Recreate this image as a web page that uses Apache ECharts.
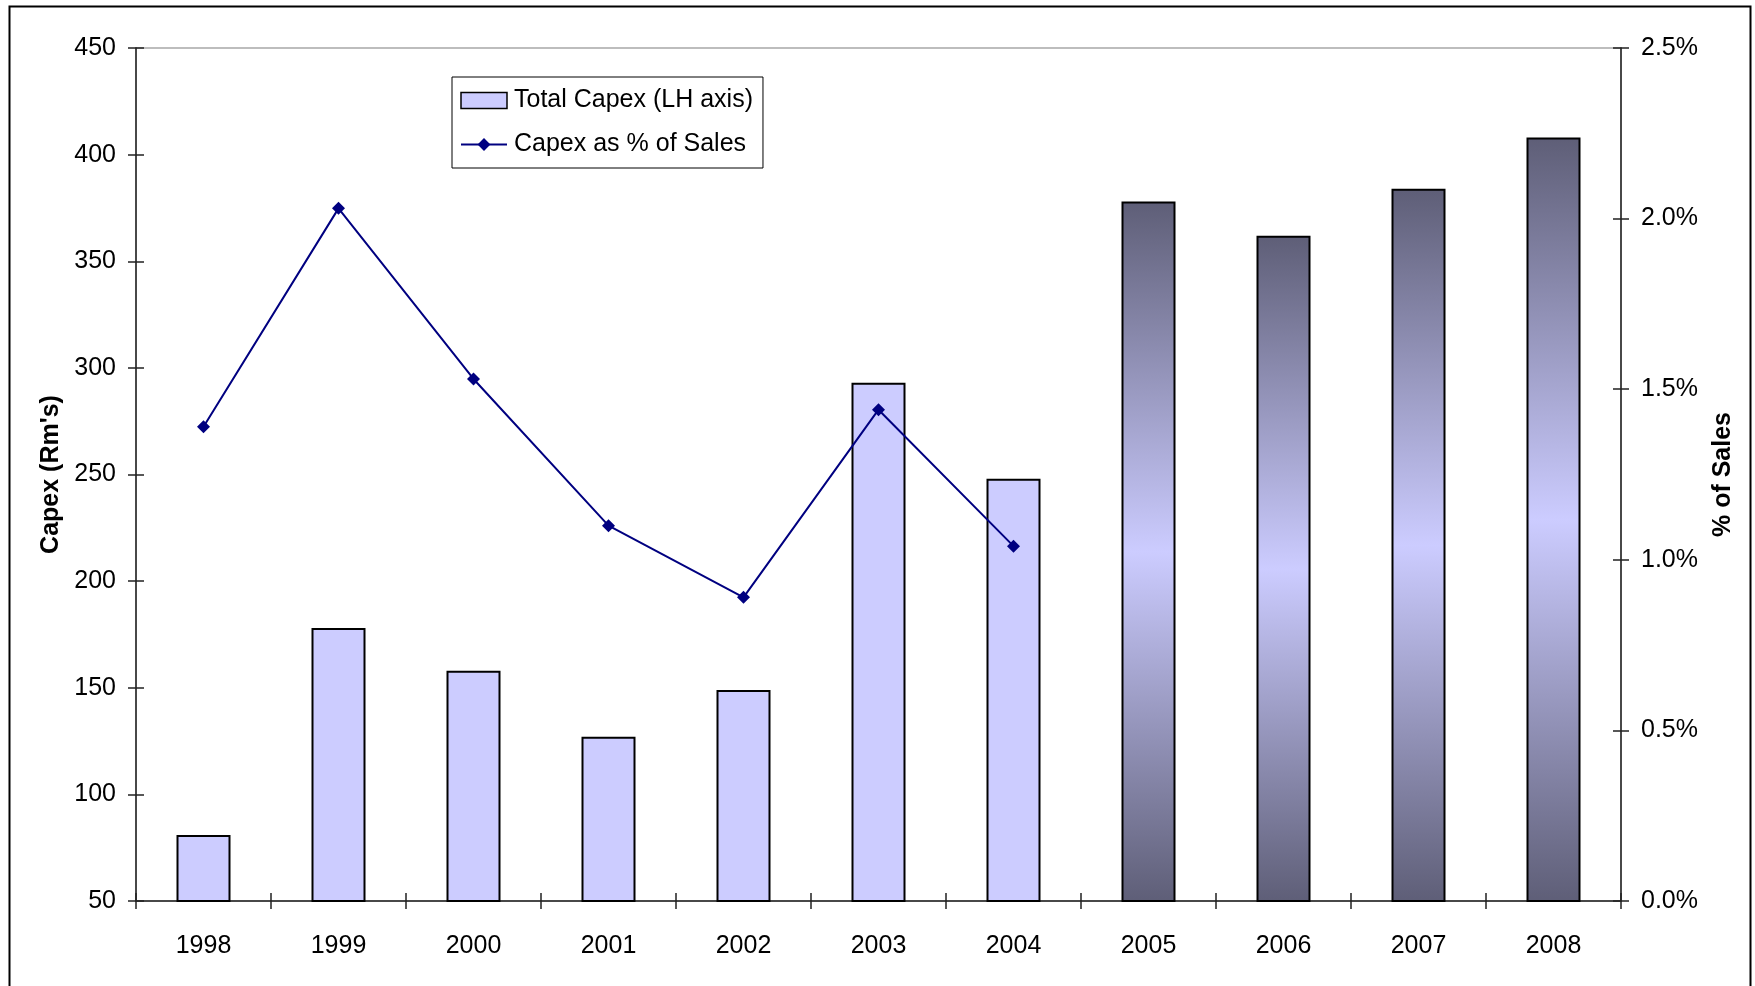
<!DOCTYPE html>
<html>
<head>
<meta charset="utf-8">
<script src="https://cdn.jsdelivr.net/npm/echarts@6/dist/echarts.min.js"></script>
<style>
html,body{margin:0;padding:0;background:#fff;}
#chart{width:1755px;height:986px;}
</style>
</head>
<body>
<div id="chart"></div>
<script>
const categories = ['1998','1999','2000','2001','2002','2003','2004','2005','2006','2007','2008'];
const capexValues = [81, 178, 158, 127, 149, 293, 248, 378, 362, 384, 408];
const capexPctSales = [1.39, 2.03, 1.53, 1.10, 0.89, 1.44, 1.04, null, null, null, null];
const forecastFrom = '2005';
const leftTicks = {min: 50, max: 450, interval: 50};
const rightTicks = {min: 0, max: 2.5, interval: 0.5};

const chart = echarts.init(document.getElementById('chart'));
const FONT = '"Liberation Sans", Arial, sans-serif';
const lightFill = '#CCCCFF';
const darkFill = '#5E5E77';
const fIdx = categories.indexOf(forecastFrom);

const barData = capexValues.map((v, i) => {
  if (i < fIdx) return v;
  return {
    value: v,
    itemStyle: {
      color: new echarts.graphic.LinearGradient(0, 0, 0, 1, [
        {offset: 0, color: darkFill},
        {offset: 0.5, color: lightFill},
        {offset: 1, color: darkFill}
      ])
    }
  };
});

const axisCol = '#222';
chart.setOption({
  backgroundColor: '#fff',
  animation: false,
  textStyle: {fontFamily: FONT},
  graphic: [{
    type: 'rect', left: 7, top: 4, silent: true,
    shape: {width: 1741, height: 1000},
    style: {fill: 'none', stroke: '#000', lineWidth: 2}
  }],
  legend: {
    left: 452, top: 77, orient: 'vertical',
    backgroundColor: '#fff',
    borderColor: '#000', borderWidth: 1,
    padding: [11, 10, 11, 8],
    itemWidth: 46, itemHeight: 16, itemGap: 19,
    textStyle: {fontSize: 25, color: '#000', fontFamily: FONT, padding: [0, 0, 0, 2]},
    data: [
      {name: 'Total Capex (LH axis)', icon: 'rect', itemStyle: {color: lightFill, borderColor: '#000', borderWidth: 1.5}},
      {name: 'Capex as % of Sales'}
    ]
  },
  grid: {left: 136, right: 134, top: 48, bottom: 85, show: true, borderColor: '#a8a8a8', borderWidth: 1.5, containLabel: false},
  xAxis: [{
    type: 'category', data: categories,
    axisLine: {lineStyle: {color: axisCol, width: 1.5}},
    axisTick: {show: true, length: 8, lineStyle: {color: axisCol, width: 1.5}},
    axisLabel: {fontSize: 25, color: '#000', margin: 33, fontFamily: FONT},
    splitLine: {show: false}
  }, {
    type: 'category', data: categories, position: 'bottom',
    axisLine: {show: false},
    axisTick: {show: true, inside: true, length: 8, lineStyle: {color: axisCol, width: 1.5}},
    axisLabel: {show: false}
  }],
  yAxis: [{
    type: 'value', min: leftTicks.min, max: leftTicks.max, interval: leftTicks.interval,
    position: 'left',
    name: "Capex (Rm's)", nameLocation: 'middle', nameGap: 71, nameRotate: 90,
    nameTextStyle: {fontSize: 25, fontWeight: 'bold', color: '#000', fontFamily: FONT},
    axisLine: {show: true, lineStyle: {color: axisCol, width: 1.5}},
    axisTick: {show: true, length: 8, lineStyle: {color: axisCol, width: 1.5}},
    axisLabel: {fontSize: 25, color: '#000', margin: 20, fontFamily: FONT},
    splitLine: {show: false}
  }, {
    type: 'value', min: rightTicks.min, max: rightTicks.max, interval: rightTicks.interval,
    position: 'right',
    name: '% of Sales', nameLocation: 'middle', nameGap: 90, nameRotate: 90,
    nameTextStyle: {fontSize: 25, fontWeight: 'bold', color: '#000', fontFamily: FONT},
    axisLine: {show: true, lineStyle: {color: axisCol, width: 1.5}},
    axisTick: {show: true, length: 8, lineStyle: {color: axisCol, width: 1.5}},
    axisLabel: {fontSize: 25, color: '#000', margin: 20, fontFamily: FONT,
      formatter: v => v.toFixed(1) + '%'},
    splitLine: {show: false}
  }, {
    type: 'value', min: leftTicks.min, max: leftTicks.max, interval: leftTicks.interval,
    position: 'left', offset: 0,
    axisLine: {show: false},
    axisTick: {show: true, inside: true, length: 8, lineStyle: {color: axisCol, width: 1.5}},
    axisLabel: {show: false}, splitLine: {show: false}
  }, {
    type: 'value', min: rightTicks.min, max: rightTicks.max, interval: rightTicks.interval,
    position: 'right', offset: 0,
    axisLine: {show: false},
    axisTick: {show: true, inside: true, length: 8, lineStyle: {color: axisCol, width: 1.5}},
    axisLabel: {show: false}, splitLine: {show: false}
  }],
  series: [{
    name: 'Total Capex (LH axis)', type: 'bar', data: barData,
    xAxisIndex: 0, yAxisIndex: 0, barWidth: '40%',
    itemStyle: {color: lightFill, borderColor: '#000', borderWidth: 2},
    z: 2
  }, {
    name: 'Capex as % of Sales', type: 'line', data: capexPctSales,
    xAxisIndex: 0, yAxisIndex: 1,
    symbol: 'diamond', symbolSize: 13, showSymbol: true,
    lineStyle: {color: '#000080', width: 2},
    itemStyle: {color: '#000080'},
    z: 3
  }]
});
</script>
</body>
</html>
